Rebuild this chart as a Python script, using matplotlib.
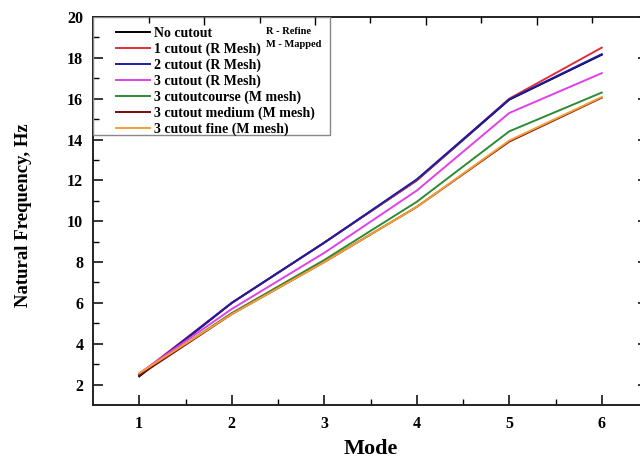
import numpy as np
import matplotlib
matplotlib.use("Agg")
from matplotlib import pyplot as plt
from matplotlib.patches import Rectangle

modes = [1, 2, 3, 4, 5, 6]

no_cutout = [2.40, 6.00, 8.95, 12.00, 15.95, 18.15]
cut1_r = [2.50, 6.00, 8.95, 12.00, 16.00, 18.50]
cut2_r = [2.45, 6.00, 8.95, 12.05, 15.97, 18.18]
cut3_r = [2.55, 5.70, 8.45, 11.50, 15.30, 17.25]
cut3_course = [2.50, 5.50, 8.10, 10.95, 14.40, 16.30]
cut3_medium = [2.45, 5.45, 8.00, 10.70, 13.90, 16.05]
cut3_fine = [2.55, 5.45, 8.00, 10.70, 13.95, 16.08]

labels = ['No cutout', '1 cutout (R Mesh)', '2 cutout (R Mesh)', '3 cutout (R Mesh)',
          '3 cutoutcourse (M mesh)', '3 cutout medium (M mesh)', '3 cutout fine (M mesh)']
series = [no_cutout, cut1_r, cut2_r, cut3_r, cut3_course, cut3_medium, cut3_fine]
colors = ['black', '#e0303a', '#1c1ca8', '#e040e6', '#2e8b35', '#7a0a0a', '#f2a035']

plt.rcParams['font.family'] = ['Liberation Serif', 'DejaVu Serif']
plt.rcParams['font.weight'] = 'bold'

fig = plt.figure(figsize=(6.4, 4.62), dpi=100)
# right spine sits just outside the picture, as in the reference crop
ax = fig.add_axes([93 / 640, 57 / 462, 555 / 640, 388 / 462])

for vals, lab, col in zip(series, labels, colors):
    ax.plot(modes, vals, color=col, lw=1.4, label=lab)

ax.set_xlim(0.5, 6.5)
ax.set_ylim(1, 20)
ax.set_xticks(modes)
ax.set_xticks(np.arange(1.5, 6.0, 1.0), minor=True)
ax.set_yticks(np.arange(2, 21, 2))
ax.set_yticks(np.arange(3, 20, 2), minor=True)
ax.tick_params(which='major', direction='in', length=7, width=1.1, labelsize=11.5)
ax.tick_params(which='minor', direction='in', length=4, width=1.0)
ax.tick_params(axis='y', which='major', right=True, pad=7)
ax.tick_params(axis='x', which='major', pad=8)
for lab in ax.get_xticklabels() + ax.get_yticklabels():
    lab.set_fontweight('bold')
for sp in ax.spines.values():
    sp.set_linewidth(1.4)
    sp.set_color('#222222')

ax.set_xlabel('Mode', fontsize=16, fontweight='bold', labelpad=5)
ax.set_ylabel('Natural Frequency, Hz', fontsize=13.5, fontweight='bold')
ax.yaxis.set_label_coords(-0.11, 0.49)

# odd spaced ticks on the top edge
top = ax.twiny()
top.set_xlim(ax.get_xlim())
top.set_xticks(np.arange(1.7, 6.0, 1.2))
top.set_xticks(np.arange(1.1, 6.0, 1.2), minor=True)
top.tick_params(which='both', direction='in', labeltop=False, width=1.0)
top.tick_params(which='major', length=6)
top.tick_params(which='minor', length=4)
for sp in top.spines.values():
    sp.set_visible(False)

ax.add_patch(Rectangle((0, 0.696), 0.427, 0.304, transform=ax.transAxes,
                       fill=False, edgecolor='#888888', lw=1.0, zorder=5))
leg = ax.legend(loc='upper left', bbox_to_anchor=(0.041, 0.975), frameon=False,
                prop={'family': 'Liberation Serif', 'weight': 'bold', 'size': 10},
                handlelength=2.45, handletextpad=0.3, labelspacing=0.19,
                borderpad=0.0, borderaxespad=0.0)
for ln in leg.get_lines():
    ln.set_linewidth(1.4)

ax.text(0.311, 0.973, 'R - Refine', transform=ax.transAxes, fontsize=7.5,
        fontweight='bold', va='top', ha='left')
ax.text(0.311, 0.94, 'M - Mapped', transform=ax.transAxes, fontsize=7.5,
        fontweight='bold', va='top', ha='left')

fig.savefig('out.png', dpi=100)
